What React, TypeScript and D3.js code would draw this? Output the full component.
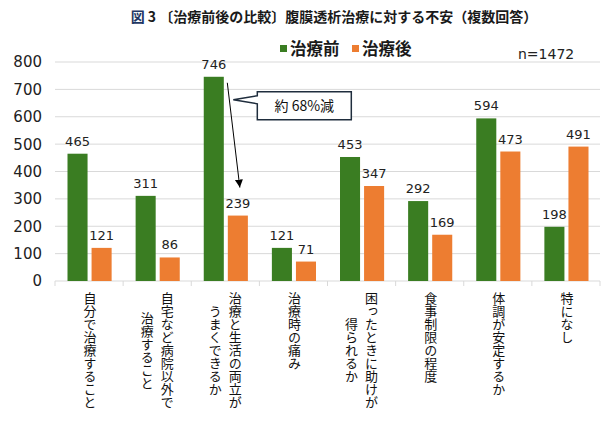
import React from "react";
import * as d3 from "d3";

const categories = [
  ["自分で治療すること"],
  ["自宅など病院以外で", "治療すること"],
  ["治療と生活の両立が", "うまくできるか"],
  ["治療時の痛み"],
  ["困ったときに助けが", "得られるか"],
  ["食事制限の程度"],
  ["体調が安定するか"],
  ["特になし"],
];
const seriesNames = ["治療前", "治療後"];
const beforeValues = [465, 311, 746, 121, 453, 292, 594, 198];
const afterValues = [121, 86, 239, 71, 347, 169, 473, 491];
const yTicks = [0, 100, 200, 300, 400, 500, 600, 700, 800];
const colors = ["#3a7d22", "#ed7d31"];

const W = 616;
const H = 425;
const left = 55;
const right = 600;
const top = 62;
const bottom = 281;

export default function App() {
  const keys = categories.map((_, i) => String(i));
  const x0 = d3.scaleBand<string>().domain(keys).range([left, right]);
  const bw = x0.bandwidth();
  const x1 = d3
    .scaleBand<string>()
    .domain(seriesNames)
    .range([12.5, bw - 11.5])
    .paddingInner(0.1667);
  const y = d3.scaleLinear().domain([0, 800]).range([bottom, top]);
  const series = [beforeValues, afterValues];
  const barW = x1.bandwidth();

  // annotation anchored on category 3
  const c3 = x0("2")!;
  const arrowX1 = c3 + x1(seriesNames[0])! + barW + 3.5;
  const arrowY1 = y(beforeValues[2]) + 6;
  const arrowX2 = c3 + x1(seriesNames[1])! + barW / 2 + 2;
  const arrowY2 = y(afterValues[2]) - 28;
  const tipX = arrowX1 + 6;
  const tipY = y(beforeValues[2]) + 23;
  const boxL = tipX + 24;
  const boxR = boxL + 94;
  const boxT = tipY - 8;
  const boxB = tipY + 20;

  const num = "'DejaVu Sans', sans-serif";
  const jp = "'Noto Sans CJK JP', sans-serif";

  return (
    <svg width={W} height={H} style={{ display: "block", position: "absolute", left: 0, top: 0 }}>
      <rect width={W} height={H} fill="#fff" />
      <defs>
        <marker id="ah" viewBox="0 0 10 10" refX="10" refY="5" markerWidth="8" markerHeight="10" orient="auto" markerUnits="userSpaceOnUse">
          <path d="M0,0 L10,5 L0,10 Z" fill="#000" />
        </marker>
      </defs>
      {/* Title */}
      <text x={334} y={22} textAnchor="middle" fontFamily={jp} fontSize={14} fontWeight="bold" fill="#1a1a1a">
        <tspan fill="#1f3864">図</tspan> 3 〔治療前後の比較〕腹膜透析治療に対する不安（複数回答）
      </text>
      {/* Legend */}
      {seriesNames.map((s, i) => (
        <g key={s} transform={`translate(${280 + i * 72},0)`}>
          <rect x={0} y={45} width={7} height={7} fill={colors[i]} />
          <text x={10} y={55} fontFamily={jp} fontSize={16.5} fontWeight="bold" fill="#1a1a1a">{s}</text>
        </g>
      ))}
      <text x={518} y={59} fontFamily={num} fontSize={14} fill="#222">n=1472</text>
      {/* gridlines */}
      {yTicks.map((t) => (
        <g key={t}>
          <line x1={left} x2={right} y1={y(t)} y2={y(t)} stroke="#d9d9d9" strokeWidth={1} />
          <text x={42} y={y(t)} dy="0.36em" textAnchor="end" fontFamily={num} fontSize={15} fill="#222">{t}</text>
        </g>
      ))}
      {/* category ticks */}
      {[...keys.map((k) => x0(k)!), right].map((xv, i) => (
        <line key={i} x1={xv} x2={xv} y1={bottom} y2={bottom + 5} stroke="#d9d9d9" />
      ))}
      {/* bars */}
      {keys.map((k, ci) => (
        <g key={k} transform={`translate(${x0(k)},0)`}>
          {series.map((vals, si) => {
            const bx = x1(seriesNames[si])!;
            const v = vals[ci];
            return (
              <g key={si}>
                <rect x={bx} y={y(v)} width={barW} height={bottom - y(v)} fill={colors[si]} />
                <text x={bx + barW / 2} y={y(v) - 8} textAnchor="middle" fontFamily={num} fontSize={13} fill="#222">{v}</text>
              </g>
            );
          })}
        </g>
      ))}
      {/* category labels */}
      {categories.map((lines, ci) => {
        const cx = x0(String(ci))! + bw / 2;
        const maxLen = d3.max(lines, (l) => l.length)!;
        const cy = 292 + (maxLen * 13) / 2;
        return lines.map((l, li) => {
          const xx = lines.length === 1 ? cx + 1 : cx + 10 - li * 20;
          return (
            <text key={`${ci}-${li}`} x={xx} y={cy} textAnchor="middle" fontFamily={jp} fontSize={13} fill="#111" style={{ writingMode: "vertical-rl" } as any}>
              {l}
            </text>
          );
        });
      })}
      {/* annotation */}
      <line x1={arrowX1} y1={arrowY1} x2={arrowX2} y2={arrowY2} stroke="#000" strokeWidth={1} markerEnd="url(#ah)" />
      <path
        d={`M${boxL},${tipY - 4} L${tipX},${tipY} L${boxL},${tipY + 4} L${boxL},${boxB} L${boxR},${boxB} L${boxR},${boxT} L${boxL},${boxT} Z`}
        fill="#fff"
        stroke="#1f2d3d"
        strokeWidth={1.5}
      />
      <text x={(boxL + boxR) / 2} y={boxB - 9} textAnchor="middle" fontFamily={jp} fontSize={14} fill="#111">約 68%減</text>
    </svg>
  );
}
